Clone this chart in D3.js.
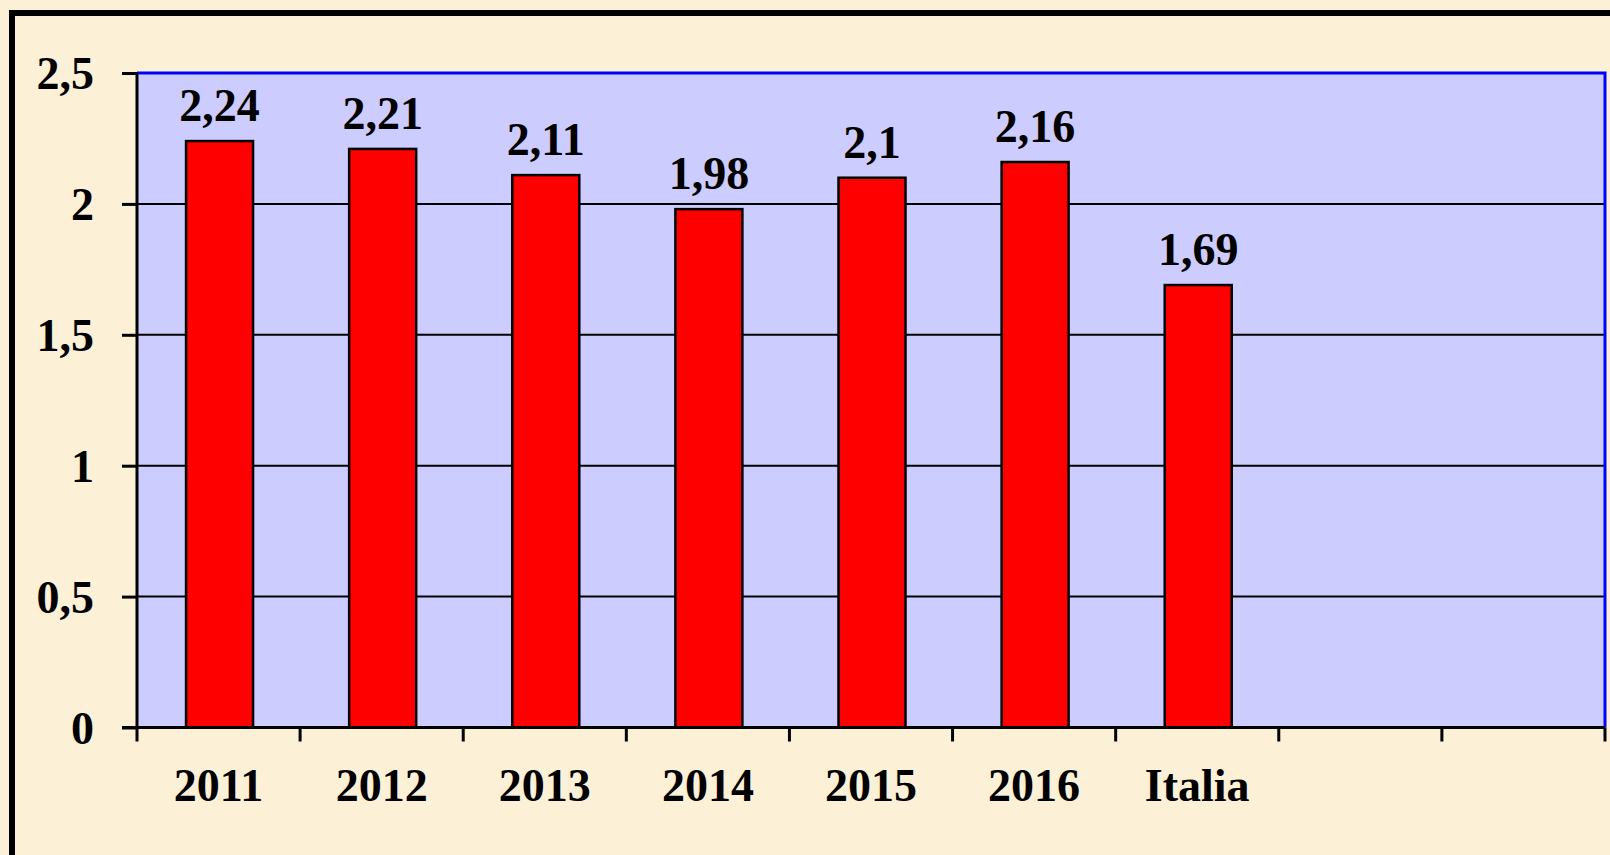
<!DOCTYPE html>
<html><head><meta charset="utf-8">
<script src="https://cdn.jsdelivr.net/npm/d3@7/dist/d3.min.js"></script>
<style>
html,body{margin:0;padding:0;background:#FCF0D7;overflow:hidden;}
svg{display:block;}
text{font-family:"Liberation Serif","Times New Roman",serif;font-weight:bold;fill:#000;}
</style></head>
<body><svg id="c" width="1610" height="855"></svg>
<script>
const categories = ["2011","2012","2013","2014","2015","2016","Italia","",""];
const values = [2.24, 2.21, 2.11, 1.98, 2.1, 2.16, 1.69];
const yTicks = [0, 0.5, 1, 1.5, 2, 2.5];
const yTickLabels = ["0","0,5","1","1,5","2","2,5"];

(function(){
const svg = d3.select("#c");
svg.append("rect").attr("width",1610).attr("height",855).attr("fill","#FCF0D7");
// outer frame
svg.append("rect").attr("x",12).attr("y",13).attr("width",1700).attr("height",1000)
  .attr("fill","none").attr("stroke","#000").attr("stroke-width",6);

const pL = 137, pR = 1605, pT = 73, pB = 727.5;
const x = d3.scaleBand().domain(categories.map((c,i)=>i)).range([pL,pR]).paddingInner(0).paddingOuter(0);
const y = d3.scaleLinear().domain([0,2.5]).range([pB,pT]);

svg.append("rect").attr("x",pL).attr("y",pT).attr("width",pR-pL).attr("height",pB-pT).attr("fill","#CCCCFF");

svg.append("g").selectAll("line").data(yTicks.filter(t=>t>0 && t<2.5)).join("line")
  .attr("x1",pL).attr("x2",pR).attr("y1",d=>y(d)).attr("y2",d=>y(d))
  .attr("stroke","#000").attr("stroke-width",2);

svg.append("path").attr("d",`M${pL},${pT}H${pR}V${pB}`).attr("fill","none").attr("stroke","#0000FF").attr("stroke-width",3);

const bw = 67;
svg.append("g").selectAll("rect").data(values).join("rect")
  .attr("x",(d,i)=>x(i)+x.bandwidth()/2-bw/2+1)
  .attr("width",bw)
  .attr("y",d=>y(d))
  .attr("height",d=>pB-y(d))
  .attr("fill","#FF0000").attr("stroke","#000").attr("stroke-width",2.5);

svg.append("g").selectAll("text").data(values).join("text")
  .attr("x",(d,i)=>x(i)+x.bandwidth()/2+1)
  .attr("y",d=>y(d)-20)
  .attr("text-anchor","middle").attr("font-size",46)
  .text(d=>String(d).replace(".",","));

const yAxis = d3.axisLeft(y).tickValues(yTicks).tickSize(15).tickFormat((d,i)=>yTickLabels[i]);
const ya = svg.append("g").attr("transform",`translate(${pL},0)`).call(yAxis);
ya.select(".domain").attr("stroke","#000").attr("stroke-width",3).attr("d",`M0,${pT}V${pB}`);
ya.selectAll(".tick line").attr("stroke","#000").attr("stroke-width",3);
ya.selectAll(".tick text").attr("x",-43).attr("dy","0.34em")
  .style("font-family","'Liberation Serif',serif").style("font-weight","bold").attr("font-size",46).attr("fill","#000");

const xAxis = d3.axisBottom(x).tickSize(0).tickFormat(i=>categories[i]);
const xa = svg.append("g").attr("transform",`translate(0,${pB})`).call(xAxis);
xa.select(".domain").attr("stroke","#000").attr("stroke-width",3).attr("d",`M${pL-15},0H${pR}`);
xa.selectAll(".tick text").attr("y",73).attr("dy",0)
  .style("font-family","'Liberation Serif',serif").style("font-weight","bold").attr("font-size",46).attr("fill","#000");
const bounds = d3.range(categories.length+1).map(i=> i<categories.length ? x(i) : pR);
xa.selectAll("line.bt").data(bounds).join("line").attr("class","bt")
  .attr("x1",d=>d).attr("x2",d=>d).attr("y1",0).attr("y2",14)
  .attr("stroke","#000").attr("stroke-width",3);
})();
</script></body></html>
